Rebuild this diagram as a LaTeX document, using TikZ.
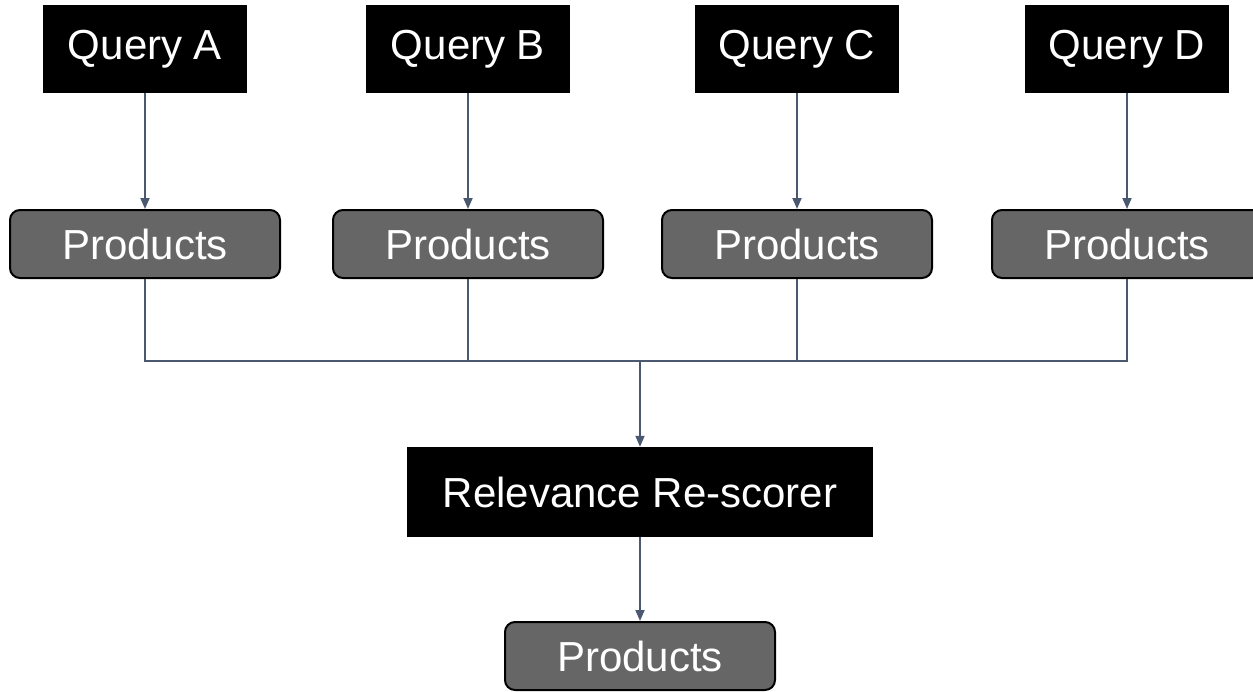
\documentclass[tikz,border=0pt]{standalone}
\usepackage{fontspec}
\setmainfont{Liberation Sans}
\usepackage{tikz}
\usetikzlibrary{arrows.meta}

\definecolor{wire}{RGB}{74,88,112}
\definecolor{prodgray}{RGB}{102,102,102}

\tikzset{
  query/.style={fill=black,text=white,minimum width=204pt,minimum height=88pt,inner sep=0pt},
  prod/.style={fill=prodgray,draw=black,line width=2pt,rounded corners=10pt,text=white,
    minimum width=270pt,minimum height=68pt,inner sep=0pt},
  link/.style={color=wire,line width=1.8pt}
}

\begin{document}
\begin{tikzpicture}[x=1pt,y=-1pt,font=\fontsize{42}{50}\selectfont]
  \useasboundingbox (0,0) rectangle (1253,691);
  \node[query] (qa) at (145,49) {Query A};
  \node[query] (qb) at (468,49) {Query B};
  \node[query] (qc) at (797,49) {Query C};
  \node[query] (qd) at (1127,49) {Query D};
  \node[prod] (pa) at (145,244) {Products};
  \node[prod] (pb) at (468,244) {Products};
  \node[prod] (pc) at (797,244) {Products};
  \node[prod] (pd) at (1127,244) {Products};
  \coordinate (bus) at (640,361);
  \node[query,minimum width=466pt,minimum height=90pt] (rel) at (640,492) {Relevance Re-scorer};
  \node[prod] (out) at (640,656) {Products};
  \path[link,-{Triangle[length=11pt,width=9pt]}]
  (qa) edge (pa)
  (qb) edge (pb)
  (qc) edge (pc)
  (qd) edge (pd)
  (bus) edge (rel)
  (rel) edge (out);
  \path[link]
  (pa.south) edge[to path={|- (\tikztotarget)}] (bus)
  (pb.south) edge[to path={|- (\tikztotarget)}] (bus)
  (pc.south) edge[to path={|- (\tikztotarget)}] (bus)
  (pd.south) edge[to path={|- (\tikztotarget)}] (bus);
\end{tikzpicture}
\end{document}
